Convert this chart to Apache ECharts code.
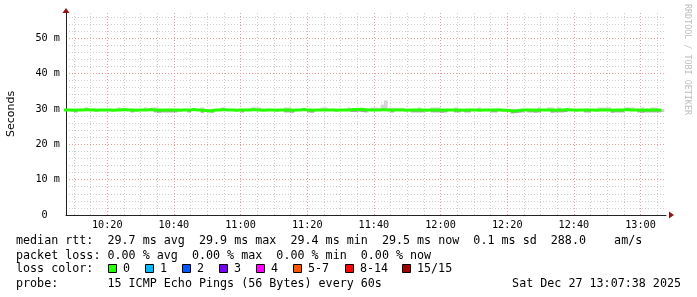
<!DOCTYPE html>
<html><head><meta charset="utf-8">
<script src="https://cdn.jsdelivr.net/npm/echarts@6.0.0/dist/echarts.min.js"></script>
<style>html,body{margin:0;padding:0;background:#fff}#c{width:697px;height:297px}</style>
</head><body><div id="c"></div>
<script>
// minutes since midnight; first sample 10:07, one sample per minute
const startMinute = 607;
const viewStart = 607 + 38 / 60;   // 10:07:38
const viewEnd = viewStart + 180;    // 13:07:38

const median = [
29.7,29.7,29.6,29.7,29.7,29.7,29.8,29.7,29.7,29.6,29.7,29.7,29.7,29.7,29.6,29.7,29.7,29.8,29.7,29.7,
29.7,29.6,29.7,29.7,29.7,29.8,29.7,29.7,29.6,29.7,29.7,29.7,29.7,29.7,29.6,29.7,29.7,29.7,29.8,29.7,
29.7,29.6,29.5,29.4,29.6,29.7,29.7,29.8,29.7,29.7,29.7,29.6,29.7,29.7,29.7,29.7,29.8,29.7,29.7,29.6,
29.7,29.7,29.7,29.6,29.7,29.7,29.7,29.7,29.6,29.7,29.7,29.8,29.7,29.7,29.6,29.7,29.7,29.7,29.7,29.7,
29.7,29.6,29.7,29.7,29.7,29.7,29.8,29.8,29.9,29.8,29.7,29.7,29.7,29.7,29.7,29.8,29.7,29.7,29.7,29.7,
29.7,29.7,29.6,29.7,29.7,29.7,29.7,29.7,29.6,29.7,29.7,29.7,29.7,29.6,29.7,29.7,29.7,29.7,29.7,29.6,
29.7,29.7,29.7,29.7,29.6,29.7,29.7,29.7,29.7,29.7,29.7,29.6,29.6,29.5,29.4,29.5,29.6,29.7,29.7,29.7,
29.7,29.6,29.7,29.7,29.7,29.7,29.6,29.7,29.7,29.7,29.8,29.7,29.7,29.6,29.7,29.7,29.7,29.7,29.7,29.6,
29.7,29.7,29.7,29.7,29.6,29.7,29.7,29.7,29.8,29.7,29.7,29.7,29.7,29.6,29.7,29.7,29.7,29.7,29.7,29.5
];
const smokeLo = [
29.4,29.4,29.3,29.0,29.4,29.4,29.4,29.4,29.4,29.3,29.4,29.4,29.4,29.4,29.3,29.4,29.4,29.4,29.4,29.4,
29.0,29.3,29.4,29.4,29.4,29.4,29.4,29.0,28.9,29.0,29.0,29.0,29.0,29.0,29.3,29.4,29.4,29.0,29.4,29.4,
29.4,28.9,29.2,29.1,28.9,29.4,29.4,29.4,29.4,29.4,29.4,29.3,29.4,29.0,29.4,29.4,29.4,29.4,29.4,29.3,
29.4,29.4,29.4,29.3,29.4,29.4,29.0,29.0,28.9,29.4,29.4,29.4,29.4,29.0,28.9,29.4,29.4,29.4,29.4,29.4,
29.4,29.3,29.4,29.4,29.4,29.4,29.1,29.1,29.2,29.1,29.0,29.4,29.4,29.4,29.4,29.4,29.4,29.4,29.0,29.4,
29.4,29.4,29.3,29.4,29.0,29.0,29.0,29.0,29.3,29.4,29.0,29.0,29.0,28.9,29.0,29.4,29.4,29.0,29.0,29.3,
29.0,29.0,29.4,29.4,29.3,29.4,29.4,29.4,29.0,29.0,29.4,29.3,29.3,29.2,28.7,28.8,28.9,29.0,29.4,29.0,
29.0,28.9,29.0,29.4,29.4,29.4,28.9,29.0,29.0,29.0,29.1,29.4,29.4,29.3,29.4,29.4,29.0,29.0,29.4,29.3,
29.4,29.4,29.4,29.4,28.9,29.0,29.0,29.0,29.4,29.4,29.4,29.4,29.0,28.9,29.0,29.0,29.0,29.0,29.0,29.2
];
const smokeHi = [
30.0,30.0,30.0,30.0,30.0,30.0,30.4,30.0,30.0,30.0,30.0,30.0,30.0,30.0,30.0,30.0,30.4,30.0,30.0,30.0,
30.0,30.0,30.0,30.0,30.4,30.0,30.4,30.4,30.0,30.0,30.0,30.0,30.0,30.0,30.0,30.0,30.0,30.0,30.0,30.0,
30.0,30.4,30.0,30.0,30.0,30.0,30.0,30.4,30.0,30.0,30.0,30.0,30.0,30.0,30.0,30.0,30.4,30.4,30.4,30.0,
30.0,30.0,30.0,30.0,30.0,30.0,30.4,30.4,30.0,30.0,30.0,30.0,30.0,30.0,30.0,30.0,30.0,30.4,30.4,30.0,
30.0,30.0,30.0,30.0,30.0,30.4,30.1,30.1,30.2,30.1,30.0,30.0,30.4,30.4,30.3,31.2,32.4,30.3,30.3,30.3,
30.3,30.3,30.0,30.0,30.0,30.0,30.4,30.0,30.0,30.0,30.4,30.4,30.4,30.0,30.0,30.0,30.0,30.4,30.0,30.0,
30.0,30.0,30.0,30.0,30.4,30.0,30.0,30.0,30.0,30.0,30.0,30.0,30.0,30.0,30.0,30.0,30.0,30.0,30.0,30.0,
30.0,30.0,30.4,30.0,30.0,30.4,30.4,30.0,30.4,30.0,30.0,30.0,30.0,30.0,30.0,30.0,30.0,30.0,30.0,30.0,
30.4,30.4,30.4,30.4,30.0,30.0,30.0,30.0,30.4,30.4,30.4,30.0,30.0,30.4,30.0,30.0,30.4,30.4,30.0,30.0
];

const xMajorValues = [620,640,660,680,700,720,740,760,780];
const xMinorValues = [610,615,625,630,635,645,650,655,665,670,675,685,690,695,705,710,715,725,730,735,745,750,755,765,770,775,785];

const statLines = [
  'median rtt:  29.7 ms avg  29.9 ms max  29.4 ms min  29.5 ms now  0.1 ms sd  288.0    am/s',
  'packet loss: 0.00 % avg  0.00 % max  0.00 % min  0.00 % now',
  'loss color:',
  'probe:       15 ICMP Echo Pings (56 Bytes) every 60s'
];
const dateText = 'Sat Dec 27 13:07:38 2025';
const lossLabels = ['0','1','2','3','4','5-7','8-14','15/15'];
const lossColors = ['#26ff00','#00b8ff','#0059ff','#7600ff','#ff00ff','#ff5500','#ff0000','#a10000'];
const watermark = 'RRDTOOL / TOBI OETIKER';

const MONO = 'DejaVu Sans Mono';
const STEP = 1; // minutes per sample
const times = median.map((_, i) => startMinute + i * STEP);
const pair = arr => arr.map((v, i) => [times[i], v]);
const lowSmoke = median.map((v, i) => [times[i], smokeLo[i], v]);
const highSmoke = median.map((v, i) => [times[i], v, smokeHi[i]]);
const fmtTime = v => { const h = Math.floor(v / 60), m = Math.round(v % 60); return String(h).padStart(2,'0') + ':' + String(m).padStart(2,'0'); };

// one rectangle per sample: from [t, a] to [t + STEP, b], placed through the axes
const smokeRect = color => (params, api) => {
  const t = api.value(0), a = api.value(1), b = api.value(2);
  const p1 = api.coord([t, Math.max(a, b)]);
  const p2 = api.coord([t + STEP, Math.min(a, b)]);
  return { type: 'rect', shape: { x: p1[0], y: p1[1], width: p2[0] - p1[0] + 0.4, height: p2[1] - p1[1] },
    style: { fill: color } };
};

const MAJOR = '#eb9a9a', MINOR = '#cdcdcd', DASH = [1, 2];
const gridMarks = xMinorValues.map(v => ({ xAxis: v, lineStyle: { color: MINOR, type: DASH, width: 1 } }))
  .concat(xMajorValues.map(v => ({ xAxis: v, lineStyle: { color: MAJOR, type: DASH, width: 1 } })));

const graphics = [];
const lineY = [241, 256, 268.5, 284];
statLines.forEach((t, i) => graphics.push({ type: 'text', silent: true,
  style: { text: t, x: 16, y: lineY[i], fill: '#000', fontFamily: MONO, fontSize: 11.7, textVerticalAlign: 'middle' } }));
graphics.push({ type: 'text', silent: true,
  style: { text: dateText, x: 681, y: lineY[3], fill: '#000', fontFamily: MONO, fontSize: 11.7, textAlign: 'right', textVerticalAlign: 'middle' } });
const boxX = [108, 145, 182, 219, 256, 293, 345, 402];
lossLabels.forEach((lab, i) => {
  graphics.push({ type: 'rect', silent: true, shape: { x: boxX[i] + 0.5, y: 264.5, width: 8, height: 8 },
    style: { fill: lossColors[i], stroke: '#000', lineWidth: 1 } });
  graphics.push({ type: 'text', silent: true,
    style: { text: lab, x: boxX[i] + 15, y: lineY[2], fill: '#000', fontFamily: MONO, fontSize: 11.7, textVerticalAlign: 'middle' } });
});
graphics.push({ type: 'text', silent: true, x: 687.5, y: 59.5, rotation: -Math.PI / 2,
  style: { text: watermark, x: 0, y: 0, fill: '#bdbdbd', fontFamily: MONO, fontSize: 8.4, textAlign: 'center', textVerticalAlign: 'middle' } });
graphics.push({ type: 'polygon', silent: true, shape: { points: [[669, 211.5], [669, 218.5], [674, 215]] }, style: { fill: '#9b1111' } });
graphics.push({ type: 'polygon', silent: true, shape: { points: [[62.5, 13], [69.5, 13], [66, 8]] }, style: { fill: '#9b1111' } });

const chart = echarts.init(document.getElementById('c'), null, { renderer: 'canvas' });
chart.setOption({
  animation: false,
  backgroundColor: '#fff',
  grid: { left: 66, top: 13, width: 600, height: 202, containLabel: false, outerBoundsMode: 'none' },
  xAxis: {
    type: 'value', min: viewStart, max: viewEnd,
    axisLine: { show: true, onZero: false, lineStyle: { color: '#222', width: 1 } },
    axisTick: { show: false }, splitLine: { show: false },
    axisLabel: { customValues: xMajorValues, formatter: fmtTime, fontFamily: MONO, fontSize: 10.2, color: '#000', margin: 5 }
  },
  yAxis: {
    type: 'value', min: 0, max: 57.1, interval: 10,
    name: 'Seconds', nameLocation: 'middle', nameGap: 49, nameRotate: 90,
    nameTextStyle: { fontFamily: 'DejaVu Sans', fontSize: 11, color: '#000' },
    axisLine: { show: true, onZero: false, lineStyle: { color: '#222', width: 1 } },
    axisTick: { show: false },
    axisLabel: { formatter: v => v === 0 ? '0  ' : (Math.abs(v % 10) < 1e-9 ? v + ' m' : ''), showMaxLabel: false,
      fontFamily: MONO, fontSize: 10.2, color: '#000', margin: 6 },
    splitLine: { show: true, showMaxLine: false, showMinLine: false, lineStyle: { color: MAJOR, type: DASH, width: 1 } },
    minorTick: { show: false, splitNumber: 5 },
    minorSplitLine: { show: true, lineStyle: { color: MINOR, type: DASH, width: 1 } }
  },
  series: [
    { type: 'custom', name: 'smokeLow', data: lowSmoke, encode: { x: 0, y: [1, 2] }, renderItem: smokeRect('#a9a9a9'),
      clip: true, silent: true, z: 2,
      markLine: { silent: true, symbol: ['none', 'none'], label: { show: false }, animation: false, data: gridMarks, z: 1 } },
    { type: 'custom', name: 'smokeHigh', data: highSmoke, encode: { x: 0, y: [1, 2] }, renderItem: smokeRect('#d4d4d4'),
      clip: true, silent: true, z: 2 },
    { type: 'line', name: 'median', data: pair(median), step: 'end', symbol: 'none', showSymbol: false,
      lineStyle: { width: 3, color: '#26ff00' }, silent: true, z: 3 }
  ],
  graphic: graphics
});
</script>
</body></html>
